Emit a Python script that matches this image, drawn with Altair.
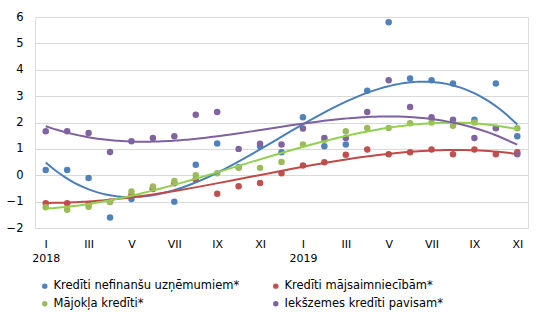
import altair as alt
import pandas as pd

months = ["I", "II", "III", "IV", "V", "VI", "VII", "VIII", "IX", "X", "XI", "XII"]
years = ["2018", "2019"]

series_names = [
    "Kredīti nefinanšu uzņēmumiem*",
    "Kredīti mājsaimniecībām*",
    "Mājokļa kredīti*",
    "Iekšzemes kredīti pavisam*",
]

blue = [0.2, 0.2, -0.1, -1.6, -0.9, -0.5, -1.0, 0.4, 1.2, 0.3, 1.1, 0.87,
        2.2, 1.1, 1.17, 3.2, 5.8, 3.67, 3.6, 3.48, 2.1, 3.48, 1.48]
red = [-1.06, -1.06, -1.1, -1.0, -0.75, -0.52, -0.3, -0.16, -0.7, -0.42, -0.29, 0.08,
       0.37, 0.49, 0.78, 0.98, 0.8, 0.87, 0.98, 0.8, 0.98, 0.8, 0.87]
green = [-1.21, -1.31, -1.19, -1.01, -0.62, -0.43, -0.22, 0.0, 0.08, 0.28, 0.28, 0.5,
         1.17, 1.35, 1.67, 1.79, 1.79, 1.97, 2.0, 1.88, 2.0, 1.8, 1.78]
purple = [1.67, 1.67, 1.6, 0.88, 1.29, 1.41, 1.48, 2.29, 2.4, 1.0, 1.19, 1.17,
          1.77, 1.41, 1.41, 2.4, 3.6, 2.59, 2.2, 2.1, 1.41, 1.78, 0.8]

values = [blue, red, green, purple]
dot_colors = ["#4F81BD", "#C0504D", "#9BBB59", "#8064A2"]
line_colors = ["#4A7EBB", "#BE4B48", "#92D050", "#7F60A0"]
line_widths = [2, 2.5, 2, 3.5]

rows = []
for name, vals in zip(series_names, values):
    for i, v in enumerate(vals):
        rows.append({"m": i, "v": v, "s": name})
df = pd.DataFrame(rows)

# legend fills column-wise: reorder so rows read blue, red / green, purple
legend_order = [0, 2, 1, 3]
leg_domain = [series_names[k] for k in legend_order]
leg_dot_colors = [dot_colors[k] for k in legend_order]
leg_line_colors = [line_colors[k] for k in legend_order]
leg_line_widths = [line_widths[k] for k in legend_order]

month_arr = "[" + ",".join("'" + m + "'" for m in months) + "]"
label_expr = (
    f"datum.value == 0 ? ['I', '{years[0]}'] : "
    f"datum.value == 12 ? ['I', '{years[1]}'] : "
    f"{month_arr}[datum.value % 12]"
)

x_enc = alt.X(
    "m:Q",
    scale=alt.Scale(domain=[-0.5, 22.5], nice=False, zero=False),
    axis=alt.Axis(
        values=list(range(0, 23, 2)),
        labelExpr=label_expr,
        grid=False,
        domain=False,
        ticks=False,
        labelPadding=10,
        labelFont="DejaVu Sans",
        labelFontSize=11,
        labelColor="#000000",
        labelLineHeight=14,
        title=None,
    ),
)
y_enc = alt.Y(
    "v:Q",
    scale=alt.Scale(domain=[-2, 6], nice=False, zero=False),
    axis=alt.Axis(
        values=list(range(-2, 7)),
        grid=True,
        gridColor="#D9D9D9",
        gridWidth=1,
        domain=False,
        ticks=False,
        labelPadding=12,
        labelFont="DejaVu Sans",
        labelFontSize=11.5,
        labelColor="#000000",
        title=None,
    ),
)

base = alt.Chart(df)

lines = base.transform_regression(
    "m", "v", method="poly", order=3, groupby=["s"], extent=[0, 22]
).mark_line().encode(
    x=x_enc,
    y=y_enc,
    color=alt.Color("s:N", scale=alt.Scale(domain=leg_domain, range=leg_line_colors), legend=None),
    strokeWidth=alt.StrokeWidth("s:N", scale=alt.Scale(domain=leg_domain, range=leg_line_widths), legend=None),
)

points = base.mark_point(filled=True, opacity=1, size=42, shape="circle").encode(
    x=x_enc,
    y=y_enc,
    color=alt.Color(
        "s:N",
        scale=alt.Scale(domain=leg_domain, range=leg_dot_colors),
        legend=alt.Legend(
            title=None,
            orient="none",
            legendX=4,
            legendY=263,
            columns=2,
            columnPadding=30,
            rowPadding=5,
            symbolType="circle",
            symbolSize=30,
            symbolOffset=0,
            labelOffset=3,
            labelFont="DejaVu Sans",
            labelFontSize=11.5,
            labelColor="#000000",
            labelLimit=400,
            padding=0,
        ),
    ),
)

chart = alt.layer(points, lines).resolve_scale(color="independent").properties(
    width=493,
    height=211,
    autosize=alt.AutoSizeParams(type="none"),
    padding={"left": 35, "top": 17, "right": 15, "bottom": 95},
).configure_view(stroke=None).configure(background="#FFFFFF")

chart.save("out.html", embed_options={"renderer": "svg", "actions": False})
